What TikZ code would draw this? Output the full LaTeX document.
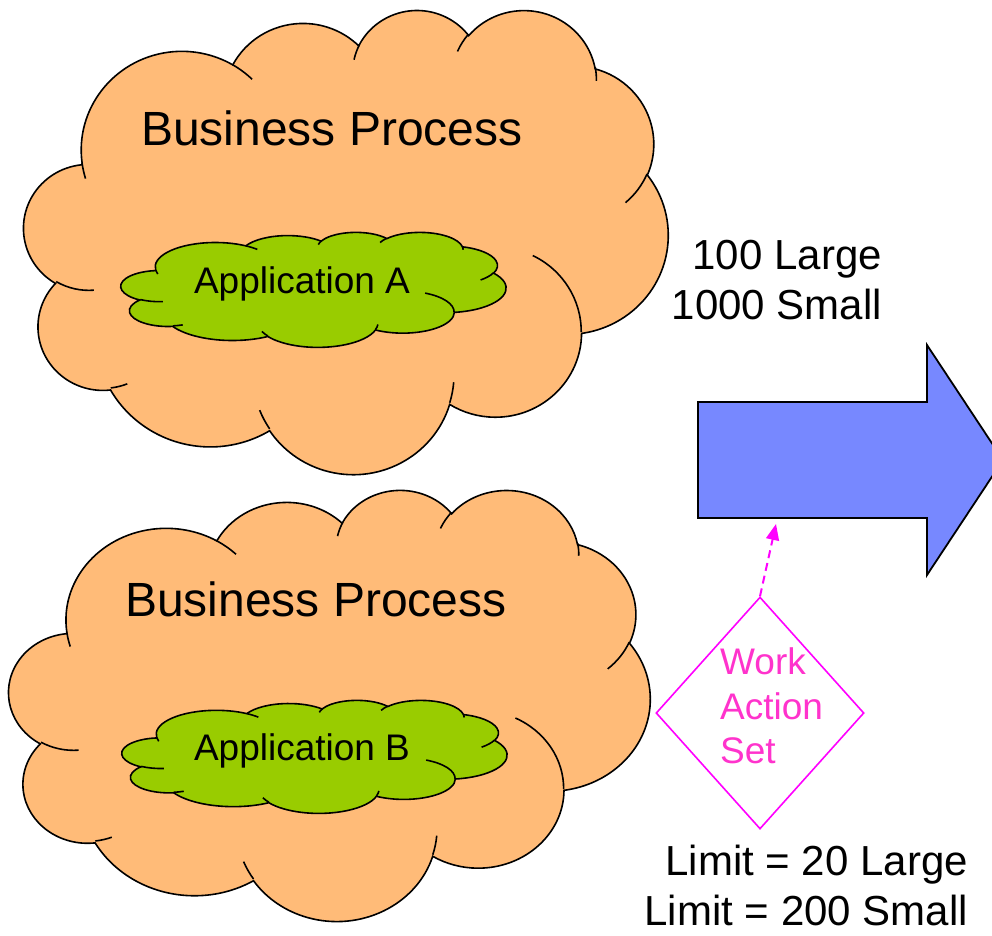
\documentclass[tikz,border=0pt]{standalone}
\usepackage{fontspec}
\setmainfont{Liberation Sans}
\usetikzlibrary{shapes.geometric,arrows.meta}
\definecolor{procorange}{RGB}{255,187,120}
\definecolor{appgreen}{RGB}{153,204,0}
\definecolor{flowblue}{RGB}{119,136,255}
\definecolor{wasmagenta}{RGB}{255,0,255}
\definecolor{wastext}{RGB}{255,51,204}
\newcommand{\bizcloud}[5]{%
  \pgfmathsetmacro{\cloudsx}{#3/4320}%
  \pgfmathsetmacro{\cloudsy}{#4/4320}%
  \begin{scope}[shift={(#1,#2)}, x=\cloudsx pt, y=-\cloudsy pt]
    \draw[cloudline, fill=#5] (390,1437)
      \foreach \wr/\hr/\st/\sw in {6753/9190/-190.4875/123.7805, 5333/7267/-144.1024/89.9452,
          4365/5945/-145.8079/99.7230, 4857/6595/-130.9861/117.2417, 5333/7273/-78.7089/109.0269,
          6775/9220/-46.2673/130.2690, 5785/7867/0.6250/114.0333, 6752/9215/22.4516/115.1726,
          7720/10543/66.2426/75.7110, 4360/5918/-274.9421/146.7356, 4345/5945/-246.8285/152.5189}
        {arc[start angle={-atan2(\wr*sin(\st),\hr*cos(\st))},
             delta angle={-mod(atan2(\wr*sin(\st+\sw),\hr*cos(\st+\sw))-atan2(\wr*sin(\st),\hr*cos(\st))+720,360)},
             x radius={\wr*\cloudsx*0.1pt}, y radius={\hr*\cloudsy*0.1pt}]} -- cycle;
    \draw[cloudline]
      \foreach \px/\py/\wr/\hr/\st/\sw in {469.3/2617.7/4345/5945/86.7420/26.4295, 692.8/3489.9/4360/5918/73.6105/11.4475,
          1647.8/3909/6752/9215/137.6242/14.0811, 2882.7/3475.1/6752/9215/6.4533/15.9984,
          3412.9/2295.4/5785/7867/-70.2924/70.9174, 4179.8/1535.4/5333/7273/30.3180/27.7515,
          3832.4/542.6/4857/6595/-13.7443/14.8589, 2907.8/395.2/4857/6595/-149.1815/18.1954,
          2214.1/472/4365/5945/-163.4943/17.6864, 1400/519.2/6753/9190/-66.7070/12.3194,
          412.7/1578.9/6753/9190/157.6544/11.8582}
        {(\px,\py) arc[start angle={-atan2(\wr*sin(\st),\hr*cos(\st))},
             delta angle={-mod(atan2(\wr*sin(\st+\sw),\hr*cos(\st+\sw))-atan2(\wr*sin(\st),\hr*cos(\st))+720,360)},
             x radius={\wr*\cloudsx*0.1pt}, y radius={\hr*\cloudsy*0.1pt}]};
  \end{scope}}

\begin{document}
\begin{tikzpicture}[x = 1pt, y = -1pt,
    cloudline/.style = {draw=black, line width=1.6pt},
    bigtext/.style = {font=\fontsize{48}{58}\selectfont, inner sep=0pt},
    apptext/.style = {font=\fontsize{37}{44}\selectfont, inner sep=0pt},
    sidetext/.style = {font=\fontsize{42}{50}\selectfont, inner sep=0pt, align=right}]
        \useasboundingbox (0,0) rectangle (992,935);
        \clip (0,0) rectangle (992,935);
        \bizcloud{24}{9}{644}{464}{procorange}
        \bizcloud{9}{489}{641}{431}{procorange}
        \bizcloud{121}{232}{385}{115}{appgreen}
        \bizcloud{122}{700}{385}{113}{appgreen}
        \node[bigtext, anchor=base] (procAtext) at (332,145) {Business Process};
        \node[bigtext, anchor=base] (procBtext) at (316,616) {Business Process};
        \node[apptext, anchor=base] (appAtext) at (302,293) {Application A};
        \node[apptext, anchor=base] (appBtext) at (302,760) {Application B};
        \node[sidetext, anchor=north east] (volume) at (882,240) {100 Large\\1000 Small};
        \node[sidetext, anchor=north east] (limits) at (968,845) {Limit = 20 Large\\Limit = 200 Small};
        \draw[line width=1.8pt, fill=flowblue] (698,402) -- (927,402) -- (927,345) -- (1003,460)
            -- (927,575) -- (927,518) -- (698,518) -- cycle;
        \coordinate (flowbottom) at (776,524);
        \node[diamond, draw=wasmagenta, line width=1.6pt, inner sep=0pt,
            minimum width=208pt, minimum height=232pt] (was) at (760,713) {};
        \node[font=\fontsize{37}{44.5}\selectfont, text=wastext, inner sep=0pt, align=left,
            anchor=north west] (wastitle) at (720,647.5) {Work\\Action\\Set};
        \draw[wasmagenta, line width=2pt, dash pattern=on 8pt off 5pt,
            -{Triangle[length=16pt, width=13pt]}] (was.north) -- (flowbottom);
      \end{tikzpicture}
\end{document}
